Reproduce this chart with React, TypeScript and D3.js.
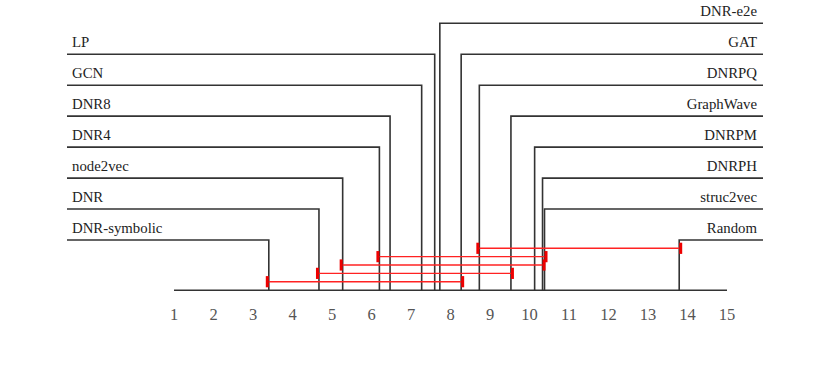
import React from "react";
import * as d3 from "d3";

const leftNames = ["DNR-symbolic", "DNR", "node2vec", "DNR4", "DNR8", "GCN", "LP"];
const leftRanks = [3.4, 4.67, 5.27, 6.2, 6.47, 7.27, 7.6];
const rightNames = ["Random", "struc2vec", "DNRPH", "DNRPM", "GraphWave", "DNRPQ", "GAT", "DNR-e2e"];
const rightRanks = [13.79, 10.38, 10.33, 10.13, 9.53, 8.73, 8.27, 7.73];
const cliqueStarts = ["DNRPQ", "DNR4", "node2vec", "DNR", "DNR-symbolic"];
const cliqueEnds = ["Random", "struc2vec", "DNRPH", "GraphWave", "GAT"];
const tickValues = [1, 2, 3, 4, 5, 6, 7, 8, 9, 10, 11, 12, 13, 14, 15];

export default function App() {
  const W = 830, H = 387;
  const x = d3.scaleLinear().domain([1, 15]).range([174, 727]);
  const rowY = d3.scaleLinear().domain([0, 7]).range([240, 23.3]);
  const cliqueY = d3.scaleLinear().domain([0, 4]).range([248.3, 281.7]);
  const axisY = 290.3;
  const leftEdge = 67;
  const rightEdge = 763;
  const rankOf = new Map<string, number>();
  leftNames.forEach((n, i) => rankOf.set(n, leftRanks[i]));
  rightNames.forEach((n, i) => rankOf.set(n, rightRanks[i]));
  const black = "#333";
  const labelStyle: React.CSSProperties = { fontFamily: '"Liberation Serif", serif', fontSize: "14.8px" };
  const tickStyle: React.CSSProperties = { fontFamily: '"Liberation Serif", serif', fontSize: "16.5px" };

  return (
    <svg width={W} height={H} style={{ position: "absolute", left: 0, top: 0, background: "#fff" }}>
      <line x1={x(1)} x2={x(15)} y1={axisY} y2={axisY} stroke={black} strokeWidth={1.6} />
      {tickValues.map((t) => (
        <text key={t} x={x(t)} y={320} textAnchor="middle" style={tickStyle} fill="#555">
          {t}
        </text>
      ))}
      {leftNames.map((n, i) => {
        const xx = x(leftRanks[i]);
        const yy = rowY(i);
        return (
          <g key={n}>
            <path d={`M${leftEdge},${yy}H${xx}V${axisY}`} fill="none" stroke={black} strokeWidth={1.6} />
            <text x={72} y={yy - 7.5} style={labelStyle} fill="#222">
              {n}
            </text>
          </g>
        );
      })}
      {rightNames.map((n, i) => {
        const xx = x(rightRanks[i]);
        const yy = rowY(i);
        return (
          <g key={n}>
            <path d={`M${rightEdge},${yy}H${xx}V${axisY}`} fill="none" stroke={black} strokeWidth={1.6} />
            <text x={757} y={yy - 7.5} textAnchor="end" style={labelStyle} fill="#222">
              {n}
            </text>
          </g>
        );
      })}
      {cliqueStarts.map((s, k) => {
        const x1 = x(rankOf.get(s)!);
        const x2 = x(rankOf.get(cliqueEnds[k])!);
        const yy = cliqueY(k);
        return (
          <g key={s}>
            <line x1={x1} x2={x2} y1={yy} y2={yy} stroke="#f22" strokeWidth={1.4} />
            <line x1={x1 - 1.5} x2={x1 - 1.5} y1={yy - 5.6} y2={yy + 5.6} stroke="#e00" strokeWidth={3} />
            <line x1={x2 + 1.5} x2={x2 + 1.5} y1={yy - 5.6} y2={yy + 5.6} stroke="#e00" strokeWidth={3} />
          </g>
        );
      })}
    </svg>
  );
}
